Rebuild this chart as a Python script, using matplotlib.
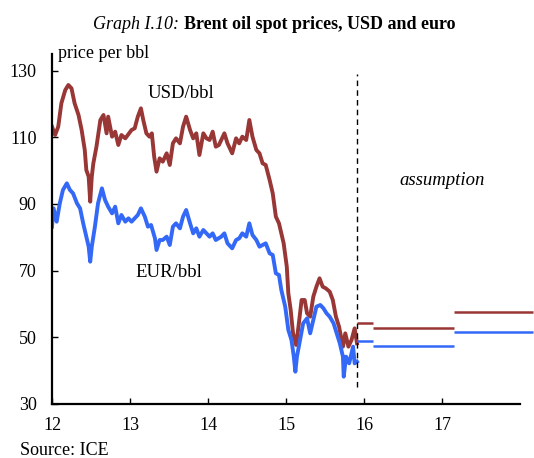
"""Brent oil spot prices in USD and euro, with assumption segments."""

import matplotlib
matplotlib.use("Agg")
import matplotlib.pyplot as plt

plt.rcParams["font.family"] = ["Liberation Serif", "DejaVu Serif"]

# history (year fraction, price per bbl)
usd_x = [12.00, 12.04, 12.08, 12.12, 12.17, 12.21, 12.25, 12.29, 12.34, 12.38,
         12.42, 12.44, 12.47, 12.49, 12.51, 12.53, 12.57, 12.62, 12.66, 12.70,
         12.72, 12.77, 12.81, 12.85, 12.89, 12.94, 13.02, 13.06, 13.10, 13.14,
         13.17, 13.21, 13.25, 13.28, 13.31, 13.34, 13.38, 13.42, 13.47, 13.51,
         13.55, 13.59, 13.64, 13.68, 13.72, 13.77, 13.81, 13.85, 13.89, 13.94,
         13.98, 14.02, 14.06, 14.10, 14.14, 14.21, 14.25, 14.31, 14.36, 14.40,
         14.44, 14.49, 14.53, 14.57, 14.62, 14.66, 14.70, 14.74, 14.79, 14.83,
         14.87, 14.91, 14.97, 15.01, 15.03, 15.06, 15.09, 15.13, 15.16, 15.20,
         15.24, 15.27, 15.31, 15.35, 15.39, 15.43, 15.47, 15.51, 15.56, 15.60,
         15.64, 15.68, 15.73, 15.76, 15.80, 15.84, 15.88, 15.91]
usd_y = [113.2, 110.7, 113.2, 120.2, 124.2, 125.7, 124.7, 120.2, 116.7, 112.2,
         106.2, 100.2, 98.2, 90.7, 98.2, 102.2, 107.2, 115.2, 116.7, 111.2,
         116.2, 110.2, 111.7, 107.7, 110.7, 109.7, 112.2, 112.7, 116.2, 118.7,
         115.2, 111.2, 110.2, 111.2, 104.2, 99.7, 103.7, 102.7, 105.2, 101.7,
         108.2, 109.7, 108.2, 113.2, 116.2, 112.2, 109.7, 111.2, 104.7, 111.2,
         109.7, 109.2, 111.7, 107.2, 107.7, 111.2, 108.2, 105.2, 109.7, 108.2,
         110.2, 109.2, 115.2, 110.2, 106.2, 105.2, 102.2, 101.7, 97.2, 93.2,
         86.2, 84.2, 78.2, 71.2, 63.2, 58.2, 51.2, 47.7, 53.2, 61.2,
         61.2, 57.2, 56.2, 62.2, 65.2, 67.7, 65.2, 64.7, 63.7, 61.2,
         56.2, 53.2, 47.2, 51.2, 47.2, 49.2, 52.7, 48.2]

eur_x = [12.00, 12.02, 12.06, 12.10, 12.14, 12.19, 12.23, 12.27, 12.32, 12.36,
         12.40, 12.44, 12.47, 12.49, 12.51, 12.55, 12.59, 12.64, 12.68, 12.72,
         12.77, 12.81, 12.85, 12.89, 12.94, 12.98, 13.02, 13.06, 13.10, 13.14,
         13.19, 13.23, 13.27, 13.32, 13.34, 13.38, 13.42, 13.47, 13.51, 13.55,
         13.59, 13.64, 13.68, 13.72, 13.77, 13.81, 13.85, 13.89, 13.94, 13.98,
         14.02, 14.06, 14.10, 14.17, 14.21, 14.25, 14.31, 14.36, 14.40, 14.44,
         14.49, 14.53, 14.57, 14.62, 14.66, 14.70, 14.74, 14.79, 14.83, 14.87,
         14.91, 14.94, 14.99, 15.03, 15.07, 15.10, 15.12, 15.14, 15.18, 15.22,
         15.27, 15.31, 15.35, 15.39, 15.44, 15.48, 15.52, 15.56, 15.61, 15.65,
         15.69, 15.73, 15.74, 15.77, 15.81, 15.86, 15.88, 15.91]
eur_y = [83.2, 88.7, 84.7, 90.2, 94.2, 96.2, 94.2, 93.2, 90.2, 88.7,
         84.2, 80.2, 77.2, 72.7, 77.2, 83.2, 90.2, 94.7, 91.2, 89.2,
         87.2, 89.2, 84.2, 86.7, 84.7, 85.7, 84.7, 85.7, 86.7, 88.7,
         86.2, 83.2, 83.7, 79.7, 76.2, 79.2, 79.2, 80.2, 77.7, 83.2,
         84.2, 82.7, 86.2, 88.2, 84.2, 81.2, 82.7, 80.2, 82.2, 81.2,
         80.2, 81.2, 79.2, 80.2, 81.2, 78.2, 76.7, 79.2, 79.7, 81.2,
         80.2, 84.2, 80.7, 79.2, 77.2, 77.7, 78.2, 75.2, 74.7, 69.2,
         68.7, 64.2, 59.2, 52.2, 49.2, 44.2, 39.7, 44.2, 49.2, 54.2,
         55.7, 51.2, 55.2, 59.2, 59.7, 58.7, 57.2, 56.2, 54.2, 51.2,
         48.2, 44.2, 38.2, 44.2, 42.2, 47.2, 42.2, 42.7]

# assumption segments (start, end, level)
seg_start = [15.91, 16.115, 17.15]
seg_end = [16.115, 17.15, 18.17]
usd_assume = [54.4, 52.9, 57.6]
eur_assume = [49.0, 47.5, 51.7]

RED = "#983735"
BLUE = "#3468F6"
FS = 13

fig = plt.figure(figsize=(5.34, 4.58), dpi=100)
ax = fig.add_axes([52 / 534, 54 / 458, 468 / 534, 350 / 458])

ax.plot(usd_x, usd_y, color=RED, linewidth=2.8)
ax.plot(eur_x, eur_y, color=BLUE, linewidth=2.8)
ax.hlines(usd_assume, seg_start, seg_end, color=RED, linewidth=1.8, clip_on=False)
ax.hlines(eur_assume, seg_start, seg_end, color=BLUE, linewidth=1.8, clip_on=False)
ax.vlines(15.91, 35, 129, color="black", linewidth=1.0, linestyles=(0, (4, 3)))

ax.set_xlim(12, 18)
ax.set_ylim(30, 135)
ax.set_xticks([12, 13, 14, 15, 16, 17])
ax.set_yticks([30, 50, 70, 90, 110, 130])
ax.tick_params(direction="in", length=4, width=1, labelsize=FS)
ax.tick_params(axis="y", pad=11)
ax.tick_params(axis="x", pad=9)
for side in ("top", "right"):
    ax.spines[side].set_visible(False)
for side in ("left", "bottom"):
    ax.spines[side].set_linewidth(1.6)

ax.text(13.65, 121.8, "USD/bbl", fontsize=13.5, ha="center", va="baseline")
ax.text(13.5, 68.1, "EUR/bbl", fontsize=13.5, ha="center", va="baseline")
ax.text(17.0, 95.7, "assumption", fontsize=13.5, style="italic", ha="center", va="baseline")

fig.text(58 / 534, 1 - 58 / 458, "price per bbl", fontsize=FS, ha="left", va="baseline")
t1 = fig.text(93 / 534, 1 - 29 / 458, "Graph I.10: ", fontsize=FS, style="italic",
              ha="left", va="baseline")
fig.canvas.draw()
bb = t1.get_window_extent()
fig.text(bb.x1 / fig.bbox.width, 1 - 29 / 458, "Brent oil spot prices, USD and euro",
         fontsize=FS, weight="bold", ha="left", va="baseline")
fig.text(20 / 534, 1 - 455 / 458, "Source: ICE", fontsize=FS, ha="left", va="baseline")

fig.savefig("out.png", dpi=100)
